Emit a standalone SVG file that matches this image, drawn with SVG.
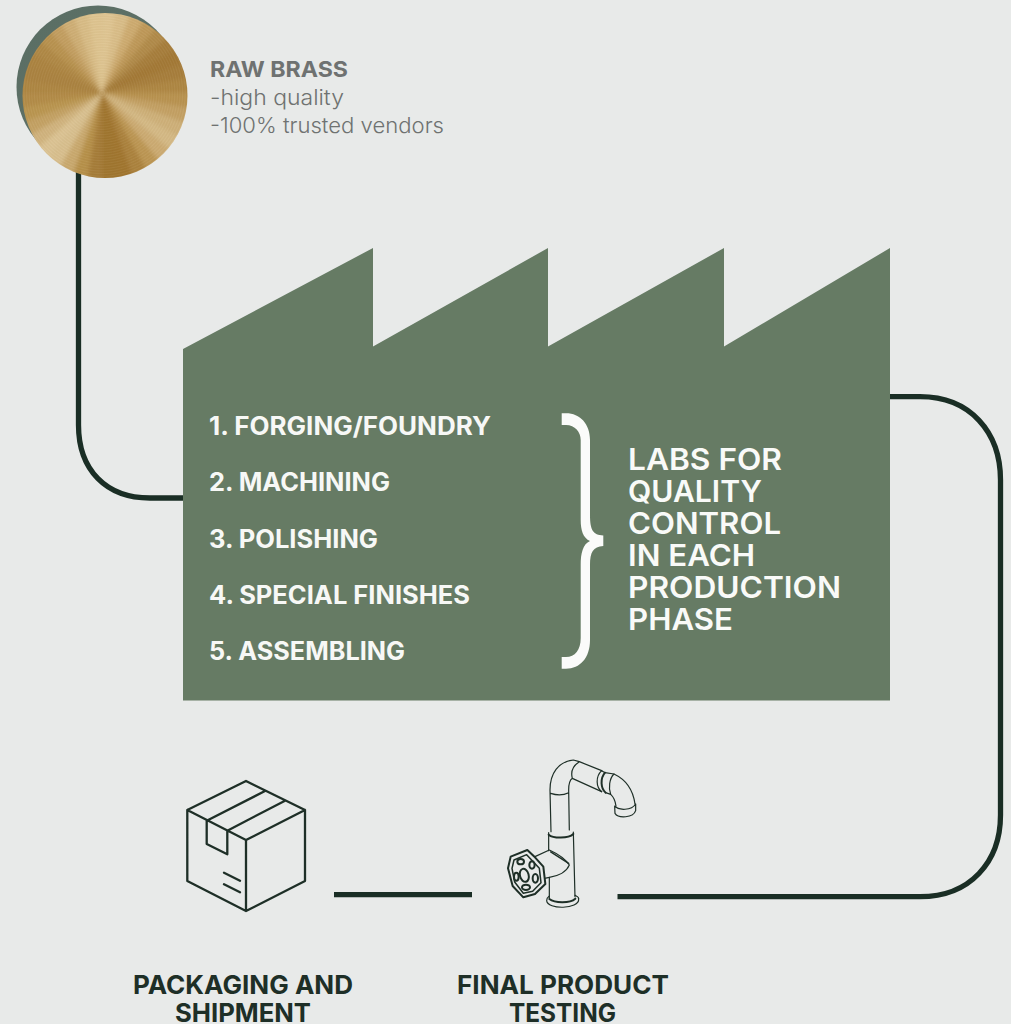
<svg xmlns="http://www.w3.org/2000/svg" width="1011" height="1024" viewBox="0 0 1011 1024">
<style>
text{font-family:"Inter","Liberation Sans",sans-serif}
.step{font-size:25px;font-weight:650;fill:#f7f8f6}
.lab{font-size:30px;font-weight:600;fill:#f9faf8}
.cap{font-size:25.500px;font-weight:700;fill:#1e2f27}
.raw{font-size:22px;fill:#6f7271}
.conn{fill:none;stroke:#1a2e25;stroke-width:5.300}
.ico{fill:none;stroke:#1e2f27;stroke-width:2.300;stroke-linejoin:round;stroke-linecap:round}
.fa{fill:none;stroke:#1e2f27;stroke-width:3.600;stroke-linejoin:round;stroke-linecap:round}
.fb{fill:none;stroke:#1e2f27;stroke-width:6;stroke-linejoin:round;stroke-linecap:round}
</style>
<defs>
<clipPath id="disc"><circle cx="105" cy="95.5" r="82.5"/></clipPath>
<filter id="soft" x="-10%" y="-10%" width="120%" height="120%"><feGaussianBlur stdDeviation="2"/></filter>
<radialGradient id="rings" gradientUnits="userSpaceOnUse" cx="102" cy="93" r="2.600" spreadMethod="repeat">
<stop offset="0" stop-color="#fff" stop-opacity=".05"/><stop offset=".5" stop-color="#5a3c10" stop-opacity=".03"/><stop offset="1" stop-color="#fff" stop-opacity=".05"/>
</radialGradient>
<linearGradient id="sh" x1="0" y1="0" x2="1" y2="1"><stop offset="0" stop-color="#5a6e64"/><stop offset="1" stop-color="#607268"/></linearGradient>
</defs>
<rect width="1011" height="1024" fill="#e8eae9"/>
<g id="connectors">
<path class="conn" d="M78.500,170V425C78.500,470 106,498 150,498H184"/>
<path class="conn" d="M889,396.700H920C970,396.700 1000.500,432 1000.500,480V815C1000.500,862 970,896.700 920,896.700H617.500"/>
<path class="conn" d="M334,894.600H472"/>
</g>
<g id="raw-brass">
<circle cx="98" cy="87" r="81.500" fill="url(#sh)"/>
<g clip-path="url(#disc)">
<g filter="url(#soft)" stroke-width="1">
<polygon points="102,93 102,-17 121.100,-15.300" fill="#dfc592" stroke="#dfc592"/>
<polygon points="102,93 121.100,-15.300 139.600,-10.400" fill="#d9bd88" stroke="#d9bd88"/>
<polygon points="102,93 139.600,-10.400 157,-2.300" fill="#cdab70" stroke="#cdab70"/>
<polygon points="102,93 157,-2.300 172.700,8.700" fill="#be9858" stroke="#be9858"/>
<polygon points="102,93 172.700,8.700 186.300,22.300" fill="#b08a48" stroke="#b08a48"/>
<polygon points="102,93 186.300,22.300 197.300,38" fill="#a67d3a" stroke="#a67d3a"/>
<polygon points="102,93 197.300,38 205.400,55.400" fill="#a27836" stroke="#a27836"/>
<polygon points="102,93 205.400,55.400 210.300,73.900" fill="#a67d3a" stroke="#a67d3a"/>
<polygon points="102,93 210.300,73.900 212,93" fill="#ad8643" stroke="#ad8643"/>
<polygon points="102,93 212,93 210.300,112.100" fill="#b8924f" stroke="#b8924f"/>
<polygon points="102,93 210.300,112.100 205.400,130.600" fill="#c3a064" stroke="#c3a064"/>
<polygon points="102,93 205.400,130.600 197.300,148" fill="#ceb079" stroke="#ceb079"/>
<polygon points="102,93 197.300,148 186.300,163.700" fill="#d4b985" stroke="#d4b985"/>
<polygon points="102,93 186.300,163.700 172.700,177.300" fill="#ccab72" stroke="#ccab72"/>
<polygon points="102,93 172.700,177.300 157,188.300" fill="#bc9653" stroke="#bc9653"/>
<polygon points="102,93 157,188.300 139.600,196.400" fill="#ab823c" stroke="#ab823c"/>
<polygon points="102,93 139.600,196.400 121.100,201.300" fill="#a0752f" stroke="#a0752f"/>
<polygon points="102,93 121.100,201.300 102,203" fill="#9f742e" stroke="#9f742e"/>
<polygon points="102,93 102,203 82.900,201.300" fill="#a57b37" stroke="#a57b37"/>
<polygon points="102,93 82.900,201.300 64.400,196.400" fill="#b69049" stroke="#b69049"/>
<polygon points="102,93 64.400,196.400 47,188.300" fill="#c9a96e" stroke="#c9a96e"/>
<polygon points="102,93 47,188.300 31.300,177.300" fill="#d8bf8e" stroke="#d8bf8e"/>
<polygon points="102,93 31.300,177.300 17.700,163.700" fill="#dbc393" stroke="#dbc393"/>
<polygon points="102,93 17.700,163.700 6.700,148" fill="#d0b37e" stroke="#d0b37e"/>
<polygon points="102,93 6.700,148 -1.400,130.600" fill="#c3a163" stroke="#c3a163"/>
<polygon points="102,93 -1.400,130.600 -6.300,112.100" fill="#b99550" stroke="#b99550"/>
<polygon points="102,93 -6.300,112.100 -8,93" fill="#b28b47" stroke="#b28b47"/>
<polygon points="102,93 -8,93 -6.300,73.900" fill="#ad8642" stroke="#ad8642"/>
<polygon points="102,93 -6.300,73.900 -1.400,55.400" fill="#aa8240" stroke="#aa8240"/>
<polygon points="102,93 -1.400,55.400 6.700,38" fill="#ab8341" stroke="#ab8341"/>
<polygon points="102,93 6.700,38 17.700,22.300" fill="#af8845" stroke="#af8845"/>
<polygon points="102,93 17.700,22.300 31.300,8.700" fill="#b8924f" stroke="#b8924f"/>
<polygon points="102,93 31.300,8.700 47,-2.300" fill="#c29e60" stroke="#c29e60"/>
<polygon points="102,93 47,-2.300 64.400,-10.400" fill="#ceae75" stroke="#ceae75"/>
<polygon points="102,93 64.400,-10.400 82.900,-15.300" fill="#d8bc86" stroke="#d8bc86"/>
<polygon points="102,93 82.900,-15.300 102,-17" fill="#dec490" stroke="#dec490"/>
</g>
<circle cx="105" cy="95.500" r="83" fill="url(#rings)"/>
</g>
<text class="raw" x="210" y="77" style="font-weight:700" textLength="138" lengthAdjust="spacingAndGlyphs">RAW BRASS</text>
<text class="raw" x="210" y="105" style="font-weight:300" textLength="134" lengthAdjust="spacingAndGlyphs">-high quality</text>
<text class="raw" x="210" y="133" style="font-weight:300" textLength="234" lengthAdjust="spacingAndGlyphs">-100% trusted vendors</text>
</g>
<g id="factory">
<polygon points="183,349 373,248 373,346.500 548,248 548,346.500 724,248 724,346.500 890,248 890,700.500 183,700.500" fill="#667b64"/>
<text class="step" x="209" y="435" textLength="282" lengthAdjust="spacingAndGlyphs">1. FORGING/FOUNDRY</text>
<text class="step" x="209" y="491" textLength="181" lengthAdjust="spacingAndGlyphs">2. MACHINING</text>
<text class="step" x="209" y="548" textLength="169" lengthAdjust="spacingAndGlyphs">3. POLISHING</text>
<text class="step" x="209" y="604" textLength="261" lengthAdjust="spacingAndGlyphs">4. SPECIAL FINISHES</text>
<text class="step" x="209" y="660" textLength="196" lengthAdjust="spacingAndGlyphs">5. ASSEMBLING</text>
<path fill="#fbfbfa" d="M561.700,413.300H566C580,413.300 590,424 590,440V515C590,530 593,535 603.300,535.500V546C593,547 590,552 590,565V640C590,658 580,668.700 566,668.700H561.700V657H566C575,657 580.700,650 580.700,638V565C580.700,553 583,544 590,541C583,538 580.700,530 580.700,520V440C580.700,432 575,425 566,425H561.700Z"/>
<text class="lab" x="628" y="470" textLength="154" lengthAdjust="spacingAndGlyphs">LABS FOR</text>
<text class="lab" x="628" y="502" textLength="134" lengthAdjust="spacingAndGlyphs">QUALITY</text>
<text class="lab" x="628" y="534" textLength="153" lengthAdjust="spacingAndGlyphs">CONTROL</text>
<text class="lab" x="628" y="566" textLength="127" lengthAdjust="spacingAndGlyphs">IN EACH</text>
<text class="lab" x="628" y="598" textLength="213" lengthAdjust="spacingAndGlyphs">PRODUCTION</text>
<text class="lab" x="628" y="630" textLength="105" lengthAdjust="spacingAndGlyphs">PHASE</text>
</g>
<g id="final-testing">
<g transform="translate(490 750) scale(.3333)">
<path class="fa" d="M183,245L180,120C180,70 205,35 250,30L268,35L335,62M238,240L236,120C236,100 240,90 247,85L335,125M268,35C245,50 243,70 247,85M182,130C200,136 220,136 236,128"/>
<path class="fa" d="M335,62C316,80 318,112 335,125"/>
<path class="fb" d="M345,68C330,85 332,116 347,128"/>
<path class="fa" d="M335,62L345,68L372,72C358,85 355,115 362,133L347,128"/>
<path class="fa" d="M372,72C410,90 430,125 435,162M362,133C370,140 376,152 378,168"/>
<path class="fa" d="M374,168C385,182 425,182 437,162V182C430,204 385,206 375,190Z"/>
<path class="fb" d="M176,254C190,266 235,266 250,252"/>
<path class="fa" d="M176,248V302M250,246L255,440M178,382V445"/>
<path class="fa" d="M135,320L178,300C200,310 225,325 238,345C230,365 205,378 178,382L150,388"/>
<path class="fb" style="stroke-width:4.500" d="M182,306L236,340"/>
<path class="fa" d="M170,452C170,440 178,440 178,438M266,448C268,440 258,438 255,436M170,452C172,480 268,478 266,448"/>
<path class="fb" d="M178,447C195,460 240,460 256,446"/>
<path class="fb" d="M62,320L112,300L135,322L160,350L166,402L135,432L100,442L68,408L54,355Z" style="fill:#e8eae9"/>
<path class="fb" style="stroke-width:4.500" d="M72,330L110,314L148,355L153,398L128,424L100,430L74,396L66,355Z"/>
<ellipse class="fb" cx="103" cy="376" rx="13" ry="20" transform="rotate(-15 103 376)"/>
<ellipse class="fb" cx="92" cy="335" rx="10" ry="8"/>
<ellipse class="fb" cx="126" cy="345" rx="8" ry="11"/>
<ellipse class="fb" cx="136" cy="385" rx="8" ry="13"/>
<ellipse class="fb" cx="108" cy="412" rx="12" ry="8"/>
<ellipse class="fb" cx="79" cy="380" rx="7" ry="12"/>
</g>
<text class="cap" x="457" y="994" textLength="212" lengthAdjust="spacingAndGlyphs">FINAL PRODUCT</text>
<text class="cap" x="509" y="1021.500" textLength="107" lengthAdjust="spacingAndGlyphs">TESTING</text>
</g>
<g id="packaging">
<path class="ico" d="M246,781L305,810V881L246,911L187.300,881V810ZM187.300,810L246,840L305,810M246,840V911M206.700,820.700L265,791M227.300,830.700L285,800.700M206.700,820.700V844L227.300,854.300V830.700M224,872.700L240,880.700M224,884.300L240,892.300"/>
<text class="cap" x="133" y="994" textLength="220" lengthAdjust="spacingAndGlyphs">PACKAGING AND</text>
<text class="cap" x="175" y="1021.500" textLength="136" lengthAdjust="spacingAndGlyphs">SHIPMENT</text>
</g>
</svg>
